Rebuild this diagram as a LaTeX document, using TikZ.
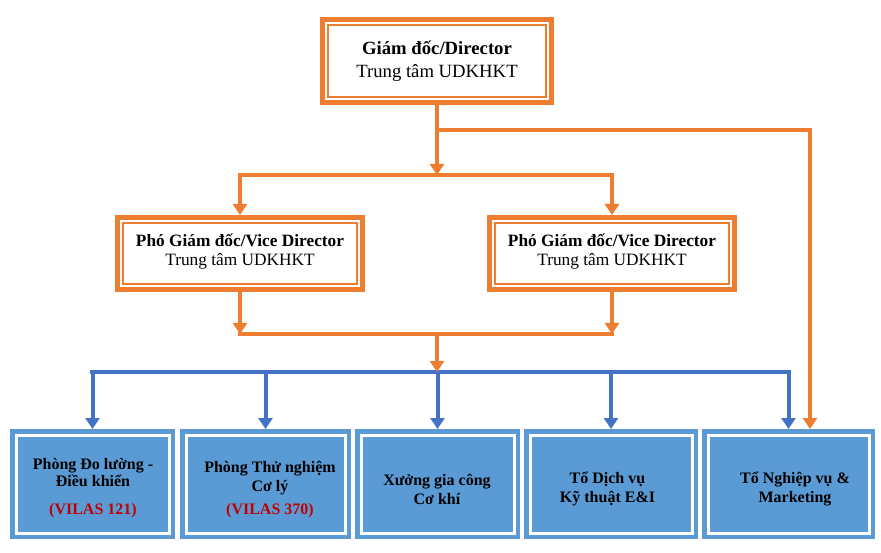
\documentclass[tikz,border=0pt]{standalone}
\usepackage{fontspec}
\setmainfont{Liberation Serif}
\usetikzlibrary{arrows.meta}
\definecolor{orng}{HTML}{ED7D31}
\definecolor{bline}{HTML}{4472C4}
\definecolor{bfill}{HTML}{5B9BD5}
\definecolor{vred}{HTML}{C00000}
\begin{document}
\begin{tikzpicture}[x=1pt,y=-1pt,
  obox/.style={rectangle, inner sep=0pt, outer sep=0pt, fill=white,
    path picture={
      \draw[orng,line width=5pt] ([shift={(2.5,2.5)}]path picture bounding box.north west) rectangle ([shift={(-2.5,-2.5)}]path picture bounding box.south east);
      \draw[orng,line width=1.5pt] ([shift={(8,8)}]path picture bounding box.north west) rectangle ([shift={(-8,-8)}]path picture bounding box.south east);}},
  bbox/.style={rectangle, inner sep=0pt, outer sep=0pt, fill=bfill, minimum height=110pt,
    path picture={
      \draw[white,line width=3pt] ([shift={(6,6)}]path picture bounding box.north west) rectangle ([shift={(-6,-6)}]path picture bounding box.south east);}},
  txt/.style={align=center, inner sep=0pt, text=black},
  oline/.style={draw=orng, line width=4pt, line cap=rect},
  oarrow/.style={draw=orng, line width=4pt, -{Triangle[width=14pt,length=11pt]}},
  bln/.style={draw=bline, line width=4pt, line cap=rect},
  barrow/.style={draw=bline, line width=4pt, -{Triangle[width=14pt,length=11pt]}}
]
\path[use as bounding box, fill=white] (0,0) rectangle (881,553);

% boxes
\node[obox, minimum width=234pt, minimum height=88pt] (dir) at (437,61) {};
\node[obox, minimum width=250pt, minimum height=77pt] (vp1) at (240,253.5) {};
\node[obox, minimum width=250pt, minimum height=77pt] (vp2) at (612,253.5) {};
\node[bbox, minimum width=165pt] (b1) at (92.5,484) {};
\node[bbox, minimum width=171pt] (b2) at (265.5,484) {};
\node[bbox, minimum width=165pt] (b3) at (437.5,484) {};
\node[bbox, minimum width=174pt] (b4) at (611,484) {};
\node[bbox, minimum width=173pt] (b5) at (788.5,484) {};

% texts
\node[txt, font=\fontsize{18.7pt}{23pt}\selectfont] (t0) at (437,61.5) {\textbf{Giám đốc/Director}\\Trung tâm UDKHKT};
\node[txt, font=\fontsize{17.3pt}{19.5pt}\selectfont] (tv1) at (240,251.5) {\textbf{Phó Giám đốc/Vice Director}\\Trung tâm UDKHKT};
\node[txt, font=\fontsize{17.3pt}{19.5pt}\selectfont] (tv2) at (612,251.5) {\textbf{Phó Giám đốc/Vice Director}\\Trung tâm UDKHKT};
\node[txt, font=\bfseries\fontsize{16pt}{17pt}\selectfont] (t1) at (93,488) {Phòng Đo lường -\\Điều khiển\\[11pt]\textcolor{vred}{(VILAS 121)}};
\node[txt, font=\bfseries\fontsize{16pt}{19pt}\selectfont] (t2) at (270,489.5) {Phòng Thử nghiệm\\Cơ lý\\[4pt]\textcolor{vred}{(VILAS 370)}};
\node[txt, font=\bfseries\fontsize{16pt}{19pt}\selectfont] (t3) at (437,489) {Xưởng gia công\\Cơ khí};
\node[txt, font=\bfseries\fontsize{16pt}{19pt}\selectfont] (t4) at (607.5,489) {Tổ Dịch vụ\\Kỹ thuật E\&I};
\node[txt, font=\bfseries\fontsize{16pt}{19pt}\selectfont] (t5) at (795,488.5) {Tổ Nghiệp vụ \&\\Marketing};

% junctions
\coordinate (ja) at (437,130);
\coordinate (jb) at (437,175);
\coordinate (jl) at (240,175);
\coordinate (jr) at (612,175);
\coordinate (ka) at (240,334);
\coordinate (kb) at (612,334);
\coordinate (kc) at (437,334);
\coordinate (la) at (92,372);
\coordinate (lb) at (788.5,372);
\coordinate (om) at (810,429);

% orange connectors
\draw[oline] (jl) -- (jr);
\draw[oarrow] (dir.south) -- (jb);
\draw[oarrow] (jl) -- (vp1.north);
\draw[oarrow] (jr) -- (vp2.north);
\draw[oarrow] (ja) -| (om);
\draw[oline] (ka) -- (kb);
\draw[oarrow] (vp1.south) -- (ka);
\draw[oarrow] (vp2.south) -- (kb);

% blue connectors
\draw[bln] (la) -- (lb);
\draw[barrow] (b1.north |- la) -- (b1.north);
\draw[barrow] (b2.north |- la) -- (b2.north);
\draw[barrow] (b3.north |- la) -- (b3.north);
\draw[barrow] (b4.north |- la) -- (b4.north);
\draw[barrow] (b5.north |- la) -- (b5.north);
\draw[oarrow] (kc) -- (kc |- la);
\end{tikzpicture}
\end{document}
